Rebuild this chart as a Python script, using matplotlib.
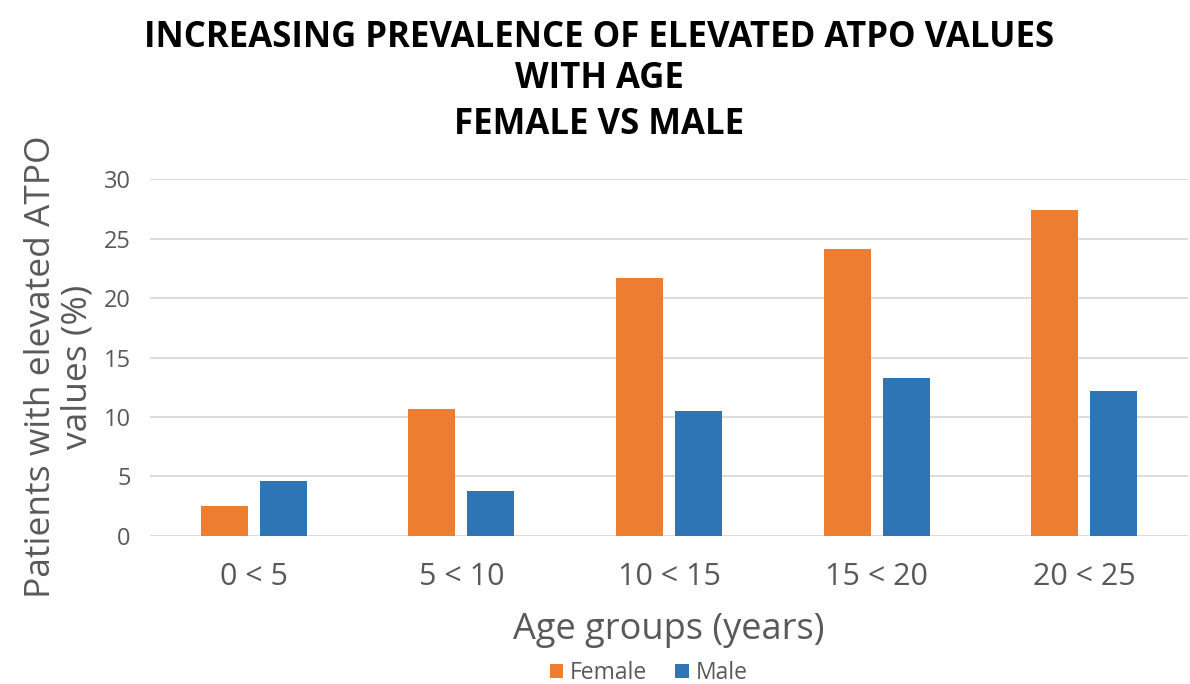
import matplotlib
matplotlib.use('Agg')
from matplotlib import pyplot as plt
import numpy as np

groepen = ["0 < 5", "5 < 10", "10 < 15", "15 < 20", "20 < 25"]
female = [2.5, 10.7, 21.7, 24.1, 27.4]
male = [4.6, 3.8, 10.5, 13.3, 12.2]
y_ticks = [0, 5, 10, 15, 20, 25, 30]
titel_regels = ["INCREASING PREVALENCE OF ELEVATED ATPO VALUES", "WITH AGE", "FEMALE VS MALE"]

oranje = '#ED7D31'
blauw = '#2E75B6'
grijs = '#595959'

plt.rcParams['font.family'] = ['Open Sans', 'DejaVu Sans']

fig = plt.figure(figsize=(11.9, 6.84), dpi=100)
ax = fig.add_axes([150 / 1190, 1 - 535.7 / 684, 1038 / 1190, 356.4 / 684])

x = np.arange(len(groepen))
breedte = 0.227
ax.bar(x - 0.142, female, breedte, color=oranje, label='Female', zorder=3)
ax.bar(x + 0.142, male, breedte, color=blauw, label='Male', zorder=3)

ax.set_xlim(-0.5, len(groepen) - 0.5)
ax.set_ylim(0, 30)
ax.set_yticks(y_ticks)
ax.set_xticks(x)
ax.set_xticklabels(groepen, fontsize=22, color=grijs)
ax.tick_params(axis='y', labelsize=17, colors=grijs, length=0, pad=14)
ax.tick_params(axis='x', length=0, pad=19)
ax.grid(axis='y', color='#D9D9D9', linewidth=1.3, zorder=0)
for s in ax.spines.values():
    s.set_visible(False)

ax.set_xlabel('Age groups (years)', fontsize=26, color=grijs, labelpad=14)
ax.set_ylabel('Patients with elevated ATPO\nvalues (%)', fontsize=25.5,
              color=grijs, linespacing=1.1)
ax.yaxis.set_label_coords(-0.053, 0.473)

# titel in drie losse regels
for regel, y_pix in zip(titel_regels, [38, 79, 125]):
    fig.text(599 / 1190, 1 - y_pix / 684, regel, ha='center', va='center',
             fontsize=25, fontweight='bold', color='black')

fig.legend(loc='center', bbox_to_anchor=(0.545, 1 - 673 / 684), ncol=2,
           frameon=False, fontsize=16.5, handlelength=0.6, handleheight=0.6,
           columnspacing=1.2, handletextpad=0.3, labelcolor=grijs)

fig.savefig('out.png', dpi=100)
